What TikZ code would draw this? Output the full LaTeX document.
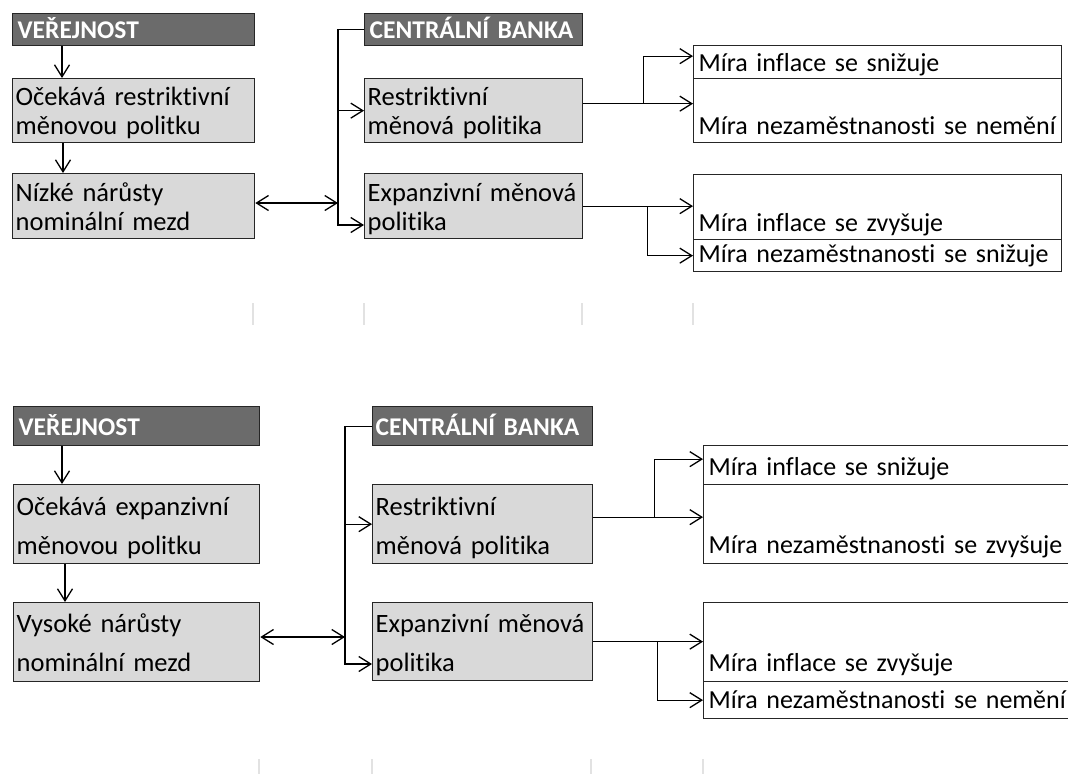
\documentclass[tikz,border=0pt]{standalone}
\usepackage{fontspec}
\setmainfont{Carlito}[Ligatures=NoCommon]
\usepackage{tikz}
\usetikzlibrary{arrows.meta}
\definecolor{hdrgray}{HTML}{6B6B6B}
\definecolor{cellgray}{HTML}{D9D9D9}
\definecolor{gridgray}{HTML}{E2E2E2}

\begin{document}
\begin{tikzpicture}[
  x=1pt, y=-1pt,
  cell/.style={draw=black!85, line width=1.3pt, anchor=north west, inner xsep=3pt, inner ysep=0pt, align=left, font=\fontsize{26.5}{29}\selectfont},
  tall/.style={font=\fontsize{26.5}{38.5}\selectfont},
  hdr/.style={cell, fill=hdrgray, text=white, font=\fontsize{25.5}{29}\selectfont\bfseries},
  box/.style={cell, fill=cellgray},
  res/.style={cell, fill=white, inner xsep=0pt, font=\fontsize{26}{29}\selectfont, execute at begin node=\hspace*{5pt}},
  arr/.style={-{Straight Barb[length=12pt,width=15pt]}, line width=1.3pt},
  arr2/.style={{Straight Barb[length=12pt,width=15pt]}-{Straight Barb[length=12pt,width=15pt]}, line width=1.3pt},
  tick/.style={gridgray, line width=1.5pt}
]
\useasboundingbox (0,0) rectangle (1068,774);
\clip (0,0) rectangle (1068,774);

\node[hdr, text width=236, text height=25, text depth=7] (pub1) at (12,13) {\hspace{2pt}VEŘEJNOST};
\node[box, text width=236, text height=27, text depth=37] (oc1) at (12,78) {Očekává restriktivní\\měnovou politku};
\node[box, text width=236, text height=28, text depth=37] (niz1) at (12,173) {Nízké nárůsty\\nominální mezd};
\node[hdr, text width=212, text height=25, text depth=7] (cb1) at (364,13) {\hspace{2pt}CENTRÁLNÍ BANKA};
\node[box, text width=212, text height=27, text depth=37] (res1) at (364,78) {Restriktivní\\měnová politika};
\node[box, text width=212, text height=28, text depth=37] (exp1) at (364,173) {Expanzivní měnová\\politika};
\node[res, text width=368, text height=26, text depth=7] (r1a) at (693,45) {Míra inflace se snižuje};
\node[res, text width=368, text height=56, text depth=8] (r1b) at (693,78) {Míra nezaměstnanosti se nemění};
\node[res, text width=368, text height=57, text depth=8] (r2a) at (693,174) {Míra inflace se zvyšuje};
\node[res, text width=368, text height=23, text depth=9] (r2b) at (693,239) {Míra nezaměstnanosti se snižuje};
\coordinate (bus1) at (338,225);
\coordinate (link1) at (338,203);

\node[hdr, text width=240, text height=29, text depth=10] (pub2) at (13,406) {\hspace{2pt}VEŘEJNOST};
\node[box, tall, text width=240, text height=31, text depth=48] (oc2) at (13,484) {Očekává expanzivní\\měnovou politku};
\node[box, tall, text width=240, text height=30, text depth=49] (vys2) at (13,602) {Vysoké nárůsty\\nominální mezd};
\node[hdr, text width=214, text height=29, text depth=10] (cb2) at (372,406) {CENTRÁLNÍ BANKA};
\node[box, tall, text width=214, text height=31, text depth=48] (res2) at (372,484) {Restriktivní\\měnová politika};
\node[box, tall, text width=214, text height=30, text depth=48] (exp2) at (372,602) {Expanzivní měnová\\politika};
\node[res, text width=372, text height=30, text depth=9] (r3a) at (703,445) {Míra inflace se snižuje};
\node[res, text width=372, text height=69, text depth=10] (r3b) at (703,484) {Míra nezaměstnanosti se zvyšuje};
\node[res, text width=372, text height=69, text depth=10] (r4a) at (703,602) {Míra inflace se zvyšuje};
\node[res, text width=372, text height=27, text depth=10] (r4b) at (703,681) {Míra nezaměstnanosti se nemění};
\coordinate (bus2) at (345,664);
\coordinate (link2) at (345,637);

\draw[arr] ([xshift=50pt]pub1.south west) -- ([xshift=50pt]oc1.north west);
\draw[arr] ([xshift=51pt]oc1.south west) -- ([xshift=51pt]niz1.north west);
\draw[arr2] (niz1.east |- link1) -- (link1);
\draw[arr] (cb1.west) -| (bus1) -- (bus1 -| exp1.west);
\draw[arr] (bus1 |- res1.west) -- (res1.west);
\draw[arr] ([yshift=7pt]res1.east) -- ([yshift=7pt]r1b.west);
\draw[arr] ([yshift=7pt]res1.east) ++(60,0) |- ([yshift=6pt]r1a.west);
\draw[arr] (exp1.east) -- (exp1.east -| r2a.west);
\draw[arr] (exp1.east) ++(64,0) |- (r2b.west);

\draw[arr] ([xshift=49pt]pub2.south west) -- ([xshift=49pt]oc2.north west);
\draw[arr] ([xshift=52pt]oc2.south west) -- ([xshift=52pt]vys2.north west);
\draw[arr2] (vys2.east |- link2) -- (link2);
\draw[arr] (cb2.west) -| (bus2) -- (bus2 -| exp2.west);
\draw[arr] (bus2 |- res2.west) -- (res2.west);
\draw[arr] ([yshift=7pt]res2.east) -- ([yshift=7pt]r3b.west);
\draw[arr] ([yshift=7pt]res2.east) ++(61,0) |- ([yshift=6pt]r3a.west);
\draw[arr] (exp2.east) -- (exp2.east -| r4a.west);
\draw[arr] (exp2.east) ++(64,0) |- (r4b.west);

\foreach \x in {253,364,582,693} \draw[tick] (\x,303) -- (\x,325);
\foreach \x in {259,372,591,703} \draw[tick] (\x,759) -- (\x,774);
\end{tikzpicture}
\end{document}
